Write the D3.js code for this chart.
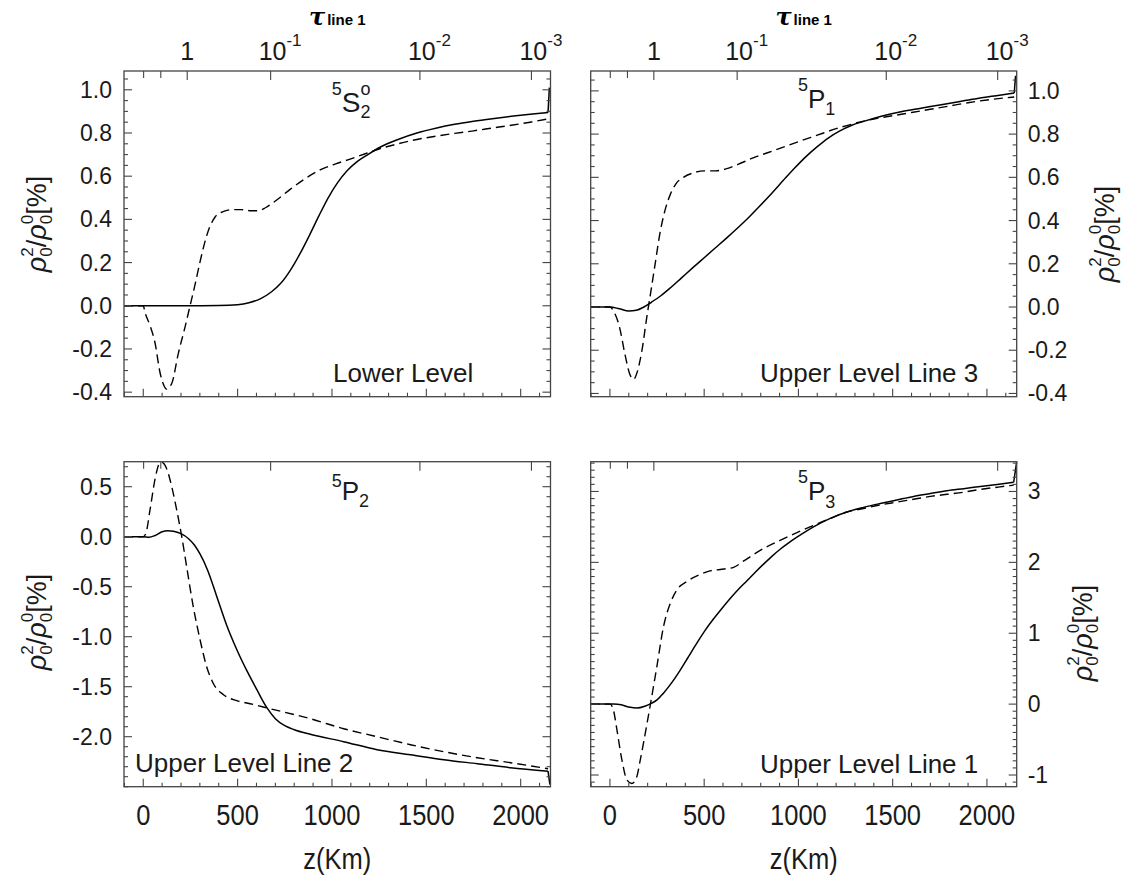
<!DOCTYPE html>
<html><head><meta charset="utf-8">
<script src="https://cdn.jsdelivr.net/npm/d3@7"></script>
<style>body{margin:0;background:#fff}</style>
</head><body>
<svg id="c" width="1134" height="888" xmlns="http://www.w3.org/2000/svg"></svg>
<script>
// ---------------- DATA ----------------
const zDomain = [-102, 2158];
const zTickValues = [0, 500, 1000, 1500, 2000];
const zTickLabels = ["0", "500", "1000", "1500", "2000"];
const tauMajorZ = [233, 675, 1466, 2057];
const tauMajorBase = ["1", "10", "10", "10"];
const tauMajorExp = ["", "-1", "-2", "-3"];
const tauMinorZ = [2, 93];

// Panel 1: 5S2o  Lower Level
const s2SolidZ = [-102, 0, 200, 400, 500, 560, 620, 680, 730, 780, 830, 880, 930, 980, 1030, 1080, 1130, 1190, 1257, 1350, 1450, 1550, 1650, 1750, 1850, 1950, 2050, 2145];
const s2SolidV = [0, 0, 0, 0.001, 0.005, 0.014, 0.032, 0.065, 0.105, 0.165, 0.24, 0.325, 0.415, 0.5, 0.57, 0.625, 0.665, 0.7, 0.735, 0.77, 0.8, 0.822, 0.84, 0.854, 0.866, 0.877, 0.887, 0.895];
const s2SolidSpike = [2152, 1.01];
const s2DashZ = [-102, 0, 9, 35, 62, 89, 110, 124, 140, 151, 186, 221, 248, 275, 300, 325, 350, 380, 420, 470, 520, 570, 610, 650, 700, 780, 860, 940, 1020, 1100, 1180, 1257, 1350, 1450, 1550, 1650, 1750, 1850, 1950, 2050, 2145];
const s2DashV = [0, 0, -0.03, -0.09, -0.17, -0.31, -0.37, -0.386, -0.375, -0.36, -0.22, -0.1, 0.0, 0.1, 0.2, 0.29, 0.36, 0.41, 0.435, 0.445, 0.445, 0.44, 0.44, 0.455, 0.485, 0.54, 0.59, 0.63, 0.657, 0.68, 0.705, 0.728, 0.75, 0.77, 0.785, 0.798, 0.81, 0.823, 0.836, 0.85, 0.865];

// Panel 2: 5P1  Upper Level Line 3
const p1SolidZ = [-102, 0, 50, 100, 140, 180, 220, 270, 320, 380, 440, 500, 560, 620, 680, 740, 800, 860, 920, 980, 1040, 1100, 1160, 1220, 1280, 1350, 1450, 1550, 1650, 1750, 1850, 1950, 2050, 2145];
const p1SolidV = [0, 0, -0.008, -0.018, -0.015, 0.0, 0.022, 0.052, 0.088, 0.135, 0.182, 0.228, 0.274, 0.32, 0.368, 0.418, 0.472, 0.528, 0.586, 0.643, 0.696, 0.742, 0.783, 0.815, 0.84, 0.86, 0.885, 0.905, 0.92, 0.935, 0.95, 0.965, 0.978, 0.99];
const p1SolidSpike = [2152, 1.07];
const p1DashZ = [-102, 0, 20, 50, 80, 105, 125, 145, 170, 195, 215, 240, 265, 290, 320, 350, 390, 440, 500, 560, 620, 680, 760, 840, 920, 1000, 1100, 1200, 1300, 1400, 1500, 1600, 1700, 1800, 1900, 2000, 2100, 2145];
const p1DashV = [0, 0, -0.02, -0.09, -0.22, -0.31, -0.335, -0.3, -0.2, -0.05, 0.06, 0.2, 0.34, 0.44, 0.52, 0.57, 0.6, 0.62, 0.63, 0.63, 0.64, 0.66, 0.69, 0.715, 0.74, 0.765, 0.795, 0.825, 0.85, 0.87, 0.885, 0.9, 0.915, 0.93, 0.945, 0.958, 0.968, 0.972];

// Panel 3: 5P2  Upper Level Line 2
const p2SolidZ = [-102, 0, 30, 60, 100, 130, 160, 200, 240, 270, 300, 340, 390, 443, 496, 549, 602, 655, 700, 750, 800, 885, 1062, 1239, 1416, 1593, 1770, 1946, 2145];
const p2SolidV = [0, 0, -0.005, 0.01, 0.05, 0.06, 0.055, 0.03, -0.02, -0.08, -0.17, -0.33, -0.6, -0.89, -1.13, -1.34, -1.53, -1.71, -1.82, -1.89, -1.93, -1.975, -2.05, -2.13, -2.18, -2.23, -2.27, -2.31, -2.345];
const p2SolidSpike = [2155, -2.48];
const p2DashZ = [-102, 0, 14, 36, 62, 85, 98, 124, 151, 177, 204, 230, 265, 301, 336, 372, 425, 496, 566, 672, 885, 1062, 1239, 1416, 1593, 1770, 1946, 2145];
const p2DashV = [0, 0, 0.033, 0.27, 0.57, 0.73, 0.745, 0.68, 0.5, 0.27, 0.0, -0.3, -0.7, -1.03, -1.3, -1.47, -1.58, -1.64, -1.67, -1.72, -1.82, -1.92, -2.0, -2.08, -2.15, -2.21, -2.26, -2.32];

// Panel 4: 5P3  Upper Level Line 1
const p3SolidZ = [-102, 19, 60, 100, 143, 185, 222, 250, 284, 330, 373, 417, 461, 505, 549, 594, 638, 682, 727, 771, 815, 859, 903, 948, 992, 1036, 1080, 1169, 1257, 1345, 1434, 1522, 1611, 1700, 1788, 1877, 1965, 2054, 2142];
const p3SolidV = [0, 0, -0.01, -0.04, -0.056, -0.03, 0.014, 0.06, 0.155, 0.31, 0.48, 0.67, 0.86, 1.04, 1.2, 1.35, 1.49, 1.62, 1.74, 1.86, 1.975, 2.085, 2.185, 2.275, 2.355, 2.43, 2.5, 2.62, 2.71, 2.775, 2.83, 2.88, 2.93, 2.97, 3.01, 3.04, 3.07, 3.1, 3.13];
const p3SolidSpike = [2158, 3.42];
const p3DashZ = [-102, 1, 20, 37, 63, 90, 116, 143, 160, 178, 213, 249, 284, 320, 355, 408, 479, 530, 585, 656, 710, 762, 832, 903, 992, 1080, 1169, 1257, 1345, 1434, 1522, 1611, 1700, 1788, 1877, 1965, 2054, 2142];
const p3DashV = [0, 0, -0.1, -0.36, -0.78, -1.07, -1.12, -1.02, -0.8, -0.55, -0.03, 0.53, 1.09, 1.42, 1.61, 1.73, 1.83, 1.88, 1.9, 1.93, 2.02, 2.11, 2.22, 2.31, 2.42, 2.52, 2.62, 2.71, 2.76, 2.81, 2.85, 2.89, 2.93, 2.96, 2.99, 3.03, 3.06, 3.09];

// y-axis ticks
const yTL = {domain: [-0.421, 1.087], major: [-0.4, -0.2, 0.0, 0.2, 0.4, 0.6, 0.8, 1.0], labels: ["-0.4", "-0.2", "0.0", "0.2", "0.4", "0.6", "0.8", "1.0"], minorStep: 0.05};
const yTR = {domain: [-0.415, 1.092], major: [-0.4, -0.2, 0.0, 0.2, 0.4, 0.6, 0.8, 1.0], labels: ["-0.4", "-0.2", "0.0", "0.2", "0.4", "0.6", "0.8", "1.0"], minorStep: 0.05};
const yBL = {domain: [-2.5, 0.75], major: [-2.0, -1.5, -1.0, -0.5, 0.0, 0.5], labels: ["-2.0", "-1.5", "-1.0", "-0.5", "0.0", "0.5"], minorStep: 0.1};
const yBR = {domain: [-1.165, 3.42], major: [-1, 0, 1, 2, 3], labels: ["-1", "0", "1", "2", "3"], minorStep: 0.1};

// ---------------- LAYOUT ----------------
const cols = [{x0: 124, x1: 550.5}, {x0: 590.7, x1: 1016.7}];
const rows = [{y0: 71, y1: 396.7}, {y0: 461.7, y1: 786.7}];
const FONT = "'Liberation Sans', Arial, Helvetica, sans-serif";
const INK = "#1a1a1a";
const FRAME = "#444";

const zip = (a, b) => a.map((v, i) => [v, b[i]]);
const panels = [
  {c: 0, r: 0, y: yTL, solid: zip(s2SolidZ, s2SolidV), spike: s2SolidSpike, dash: zip(s2DashZ, s2DashV), side: "left"},
  {c: 1, r: 0, y: yTR, solid: zip(p1SolidZ, p1SolidV), spike: p1SolidSpike, dash: zip(p1DashZ, p1DashV), side: "right"},
  {c: 0, r: 1, y: yBL, solid: zip(p2SolidZ, p2SolidV), spike: p2SolidSpike, dash: zip(p2DashZ, p2DashV), side: "left"},
  {c: 1, r: 1, y: yBR, solid: zip(p3SolidZ, p3SolidV), spike: p3SolidSpike, dash: zip(p3DashZ, p3DashV), side: "right"}
];

const svg = d3.select("#c");
svg.append("rect").attr("width", 1134).attr("height", 888).attr("fill", "#fff");

panels.forEach(p => {
  const C = cols[p.c], R = rows[p.r];
  const x = d3.scaleLinear().domain(zDomain).range([C.x0, C.x1]);
  const y = d3.scaleLinear().domain(p.y.domain).range([R.y1, R.y0]);
  const g = svg.append("g");

  // curves
  const line = d3.line().x(d => x(d[0])).y(d => y(d[1])).curve(d3.curveMonotoneX);
  g.append("path").attr("d", line(p.dash)).attr("fill", "none").attr("stroke", "#000")
    .attr("stroke-width", 1.4).attr("stroke-dasharray", "9,5");
  g.append("path").attr("d", line(p.solid)).attr("fill", "none").attr("stroke", "#000").attr("stroke-width", 1.5);
  const last = p.solid[p.solid.length - 1];
  g.append("path").attr("d", d3.line().x(d => x(d[0])).y(d => y(d[1]))([last, p.spike]))
    .attr("fill", "none").attr("stroke", "#000").attr("stroke-width", 1.5);

  // ticks
  const tk = g.append("g").attr("stroke", FRAME).attr("stroke-width", 1.1);
  const zMinor = d3.range(-100, 2160, 100).filter(v => v % 500 !== 0);
  zTickValues.forEach(v => tk.append("line").attr("x1", x(v)).attr("x2", x(v)).attr("y1", R.y1).attr("y2", R.y1 - 8));
  zMinor.forEach(v => tk.append("line").attr("x1", x(v)).attr("x2", x(v)).attr("y1", R.y1).attr("y2", R.y1 - 4));
  tauMajorZ.forEach(v => tk.append("line").attr("x1", x(v)).attr("x2", x(v)).attr("y1", R.y0).attr("y2", R.y0 + 9));
  tauMinorZ.forEach(v => tk.append("line").attr("x1", x(v)).attr("x2", x(v)).attr("y1", R.y0).attr("y2", R.y0 + 7));
  const [lo, hi] = p.y.domain;
  const st = p.y.minorStep;
  const minor = d3.range(Math.ceil(lo / st - 1e-6), Math.floor(hi / st + 1e-6) + 1).map(k => k * st);
  minor.forEach(v => {
    const isMajor = p.y.major.some(m => Math.abs(m - v) < 1e-6);
    const L = isMajor ? 8 : 4;
    tk.append("line").attr("x1", C.x0).attr("x2", C.x0 + L).attr("y1", y(v)).attr("y2", y(v));
    tk.append("line").attr("x1", C.x1).attr("x2", C.x1 - L).attr("y1", y(v)).attr("y2", y(v));
  });

  // frame
  g.append("rect").attr("x", C.x0).attr("y", R.y0).attr("width", C.x1 - C.x0).attr("height", R.y1 - R.y0)
    .attr("fill", "none").attr("stroke", FRAME).attr("stroke-width", 1.3);

  // y labels
  p.y.major.forEach((v, i) => {
    const t = g.append("text").attr("y", y(v) + 8).attr("font-family", FONT).attr("font-size", 23).attr("fill", INK)
      .text(p.y.labels[i]);
    if (p.side === "left") t.attr("x", C.x0 - 12).attr("text-anchor", "end");
    else t.attr("x", C.x1 + 11).attr("text-anchor", "start");
  });

  // x labels on bottom row
  if (p.r === 1) {
    zTickValues.forEach((v, i) => {
      g.append("text").attr("transform", `translate(${x(v)},825) scale(0.85,1)`).attr("text-anchor", "middle")
        .attr("font-family", FONT).attr("font-size", 30).attr("fill", INK).text(zTickLabels[i]);
    });
    g.append("text").attr("transform", `translate(${(C.x0 + C.x1) / 2},869) scale(0.88,1)`).attr("text-anchor", "middle")
      .attr("font-family", FONT).attr("font-size", 29).attr("fill", INK).text("z(Km)");
  }
  // tau labels on top row
  if (p.r === 0) {
    tauMajorZ.forEach((v, i) => {
      const t = g.append("text").attr("font-family", FONT).attr("font-size", 25).attr("fill", INK).attr("y", 60);
      if (tauMajorExp[i] === "") {
        t.attr("x", x(v)).attr("text-anchor", "middle").text(tauMajorBase[i]);
      } else {
        t.attr("x", x(v) - 12).attr("text-anchor", "start");
        t.append("tspan").text(tauMajorBase[i]);
        t.append("tspan").attr("font-size", 17).attr("dy", -14).text(tauMajorExp[i]);
      }
    });
    const tt = g.append("text").attr("x", (C.x0 + C.x1) / 2).attr("y", 25).attr("text-anchor", "middle").attr("fill", "#000");
    tt.append("tspan").attr("font-family", "'DejaVu Serif','Liberation Serif',serif").attr("font-style", "italic")
      .attr("font-weight", "bold").attr("font-size", 24).text("τ");
    tt.append("tspan").attr("font-family", FONT).attr("font-weight", "bold").attr("font-size", 15).attr("dx", 2).text("line 1");
  }
});

// y-axis titles  ρ0^2/ρ0^0[%]
function rhoLabel(xb, yc) {
  const t = svg.append("text").attr("transform", `translate(${xb},${yc}) rotate(-90)`).attr("text-anchor", "middle")
    .attr("font-family", FONT).attr("font-size", 27).attr("fill", INK);
  t.append("tspan").attr("font-style", "italic").text("ρ");
  t.append("tspan").attr("font-size", 17).attr("dy", 6).text("0");
  t.append("tspan").attr("font-size", 17).attr("dx", -9.5).attr("dy", -19).text("2");
  t.append("tspan").attr("dy", 13).text("/");
  t.append("tspan").attr("font-style", "italic").text("ρ");
  t.append("tspan").attr("font-size", 17).attr("dy", 6).text("0");
  t.append("tspan").attr("font-size", 17).attr("dx", -9.5).attr("dy", -19).text("0");
  t.append("tspan").attr("dy", 13).text("[%]");
}
rhoLabel(46, 224);
rhoLabel(1114, 234);
rhoLabel(46, 622);
rhoLabel(1092, 633);

// panel titles
function title(x0, base, main, sup, sub, size, supBase, subBase) {
  const t = svg.append("text").attr("x", x0).attr("y", base).attr("font-family", FONT).attr("fill", INK).attr("font-size", size);
  t.append("tspan").attr("font-size", 18).attr("dy", supBase - base).text("5");
  t.append("tspan").attr("dy", base - supBase).text(main);
  if (sup) {
    t.append("tspan").attr("font-size", 18).attr("dy", supBase - base).text(sup);
    t.append("tspan").attr("font-size", 18).attr("dx", -10).attr("dy", subBase - supBase).text(sub);
  } else {
    t.append("tspan").attr("font-size", 18).attr("dy", subBase - base).text(sub);
  }
}
title(331.7, 111.7, "S", "o", "2", 28, 95, 118);
title(798, 108, "P", null, "1", 26, 91, 115);
title(331.7, 500, "P", null, "2", 26, 486.7, 507);
title(798, 500, "P", null, "3", 26, 483, 508);

// inner labels
const inner = [["Lower Level", 333, 382], ["Upper Level Line 3", 760, 382], ["Upper Level Line 2", 135, 772], ["Upper Level Line 1", 760, 773]];
inner.forEach(d => svg.append("text").attr("x", d[1]).attr("y", d[2]).attr("font-family", FONT).attr("font-size", 26)
  .attr("fill", INK).text(d[0]));
</script>
</body></html>
